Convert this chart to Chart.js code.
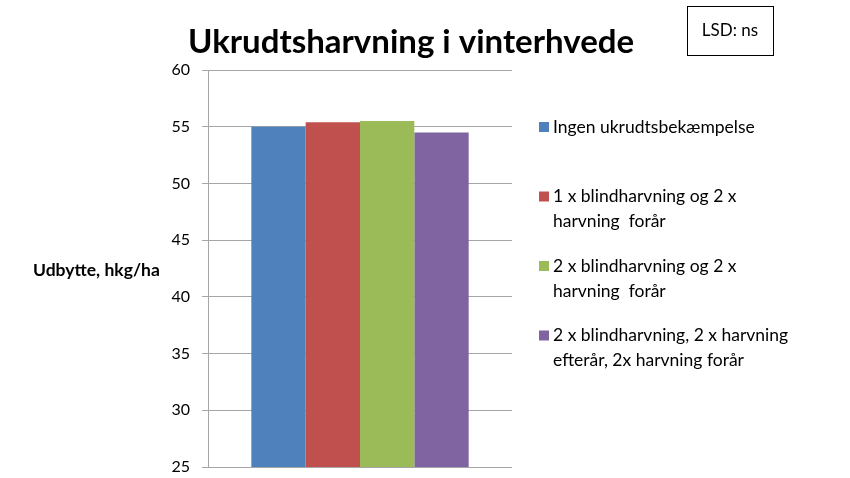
<!DOCTYPE html>
<html><head><meta charset="utf-8">
<script src="https://cdn.jsdelivr.net/npm/chart.js@4.4.0/dist/chart.umd.min.js"></script>
<style>html,body{margin:0;padding:0;background:#fff}#wrap{position:relative;width:850px;height:478px}</style>
</head><body>
<div id="wrap"><canvas id="c" width="850" height="478"></canvas></div>
<script>
const chartTitle = "Ukrudtsharvning i vinterhvede";
const yAxisTitle = "Udbytte, hkg/ha";
const noteText = "LSD: ns";
const categories = ["Udbytte"];
const seriesLabels = [
  ["Ingen ukrudtsbekæmpelse"],
  ["1 x blindharvning og 2 x", "harvning  forår"],
  ["2 x blindharvning og 2 x", "harvning  forår"],
  ["2 x blindharvning, 2 x harvning", "efterår, 2x harvning forår"]
];
const seriesValues = [55.0, 55.4, 55.5, 54.5];
const seriesColors = ["#4F81BD", "#C0504D", "#9BBB59", "#8064A2"];
const yMin = 25, yMax = 60, yStep = 5;

const FONT = "Lato, 'Open Sans', sans-serif";

const extras = {
  id: 'extras',
  afterDraw(chart) {
    const ctx = chart.ctx;
    ctx.save();
    ctx.fillStyle = '#000';
    ctx.font = "bold 33px " + FONT;
    ctx.textAlign = 'center';
    ctx.textBaseline = 'middle';
    ctx.fillText(chartTitle, 411, 42);
    ctx.strokeStyle = '#000';
    ctx.lineWidth = 1;
    ctx.strokeRect(687.5, 6.5, 86, 49);
    ctx.font = "17px " + FONT;
    ctx.fillText(noteText, 730, 31);
    ctx.font = "bold 17.5px " + FONT;
    ctx.textAlign = 'left';
    ctx.fillText(yAxisTitle, 33, 270);
    ctx.font = "17.5px " + FONT;
    chart.data.datasets.forEach((ds, i) => {
      const y0 = 127 + i * 69.5;
      ctx.fillStyle = ds.backgroundColor;
      ctx.fillRect(539, y0 - 5, 10, 10);
      ctx.fillStyle = '#000';
      ds.lines.forEach((ln, j) => ctx.fillText(ln, 553, y0 + j * 25));
    });
    ctx.restore();
  }
};

new Chart(document.getElementById('c'), {
  type: 'bar',
  data: {
    labels: categories,
    datasets: seriesValues.map((v, i) => ({
      label: seriesLabels[i].join(' '),
      lines: seriesLabels[i],
      data: [v],
      backgroundColor: seriesColors[i],
      borderWidth: 0
    }))
  },
  options: {
    responsive: false,
    animation: false,
    layout: { padding: { left: 150, right: 338, top: 70, bottom: 11 } },
    datasets: { bar: { categoryPercentage: 0.715, barPercentage: 1.0 } },
    plugins: { legend: { display: false }, title: { display: false }, tooltip: { enabled: false } },
    scales: {
      x: { display: false },
      y: {
        min: yMin, max: yMax,
        afterFit: s => { s.width = 58; s.paddingTop = 0; s.paddingBottom = 0; },
        ticks: { stepSize: yStep, color: '#000', font: { family: FONT, size: 16 }, padding: 12 },
        grid: { color: '#a6a6a6', lineWidth: 1, tickLength: 6 },
        border: { color: '#a6a6a6', width: 1 }
      }
    }
  },
  plugins: [extras]
});
</script>
</body></html>
